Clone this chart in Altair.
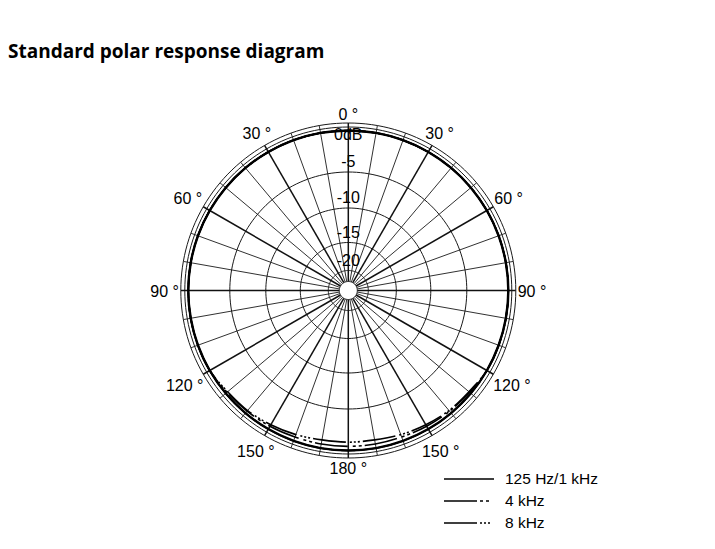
import altair as alt
import pandas as pd

TITLE = "Standard polar response diagram"
SERIES = ["125 Hz/1 kHz", "4 kHz", "8 kHz"]
ANGLES = [0, 10, 20, 30, 40, 50, 60, 70, 80, 90, 100, 110, 120, 130, 140, 150, 160, 170, 180,
          190, 200, 210, 220, 230, 240, 250, 260, 270, 280, 290, 300, 310, 320, 330, 340, 350, 360]
RESP_125_1K = [0, 0, 0, 0, 0, 0, 0, 0, 0, 0, 0, 0, 0, 0, 0, 0, 0, 0, 0,
               0, 0, 0, 0, 0, 0, 0, 0, 0, 0, 0, 0, 0, 0, 0, 0, 0, 0]
RESP_4K = [0, 0, 0, 0, 0, 0, 0, 0, 0, 0, 0, 0, 0, -0.2, -0.3, -0.4, -0.5, -0.5, -0.5,
           -0.5, -0.5, -0.4, -0.3, -0.2, 0, 0, 0, 0, 0, 0, 0, 0, 0, 0, 0, 0, 0]
RESP_8K = [0, 0, 0, 0, 0, 0, 0, 0, 0, 0, 0, 0, 0, -0.3, -0.4, -0.6, -0.8, -1.0, -1.0,
           -1.0, -0.8, -0.6, -0.4, -0.3, 0, 0, 0, 0, 0, 0, 0, 0, 0, 0, 0, 0, 0]
RING_DB = [0, -5, -10, -15, -20]
RING_LABELS = ["0dB", "-5", "-10", "-15", "-20"]
SPOKE_ANGLES = list(range(0, 360, 10))
ANGLE_LABEL_POS = [0, 30, 60, 90, 120, 150, 180, 210, 240, 270, 300, 330]
ANGLE_LABEL_TEXT = ["0 °", "30 °", "60 °", "90 °", "120 °", "150 °", "180 °",
                    "150 °", "120 °", "90 °", "60 °", "30 °"]

# radial scale of the diagram (dB -> pixels from centre)
R_DB = [-25, -20, -15, -10, -5, 0]
R_PX = [9, 20, 48, 82.5, 118.5, 160]
R_BAND = 163.5
R_OUTER = 167.5

W, H = 699, 463
CX, CY = 340.3, 212.5
XDOM = [-CX, W - CX]
YDOM = [-(H - CY), CY]

FONT = "Liberation Sans"


def rad_expr(f):
    def seg(i):
        s = (R_PX[i + 1] - R_PX[i]) / (R_DB[i + 1] - R_DB[i])
        return f"({R_PX[i]} + (({f}) - ({R_DB[i]})) * {s})"
    expr = seg(0)
    for i in range(1, len(R_DB) - 1):
        expr = f"(({f}) >= {R_DB[i]} ? {seg(i)} : {expr})"
    return expr


def polar(ch, r="r", a="angle", xn="px", yn="py"):
    return ch.transform_calculate(**{
        xn: f"datum.{r}*sin(datum.{a}*PI/180)",
        yn: f"datum.{r}*cos(datum.{a}*PI/180)",
    })


X = alt.X("px:Q", scale=alt.Scale(domain=XDOM, nice=False, zero=False), axis=None)
Y = alt.Y("py:Q", scale=alt.Scale(domain=YDOM, nice=False, zero=False), axis=None)

STEP = list(range(0, 361, 2))

# dB rings + hub
ring_df = pd.DataFrame([{"ring": str(d), "db": d, "angle": a}
                        for d in RING_DB + [R_DB[0]] for a in STEP])
rings = polar(alt.Chart(ring_df).transform_calculate(r=rad_expr("datum.db"))).mark_line(
    color="#1a1a1a", strokeWidth=1).encode(x=X, y=Y, detail="ring:N", order="angle:Q")

frame_df = pd.DataFrame([{"ring": str(r), "r": r, "angle": a}
                         for r in [R_BAND, R_OUTER] for a in STEP])
frame = polar(alt.Chart(frame_df)).mark_line(color="#1a1a1a", strokeWidth=1).encode(
    x=X, y=Y, detail="ring:N", order="angle:Q")

# spokes
spoke_df = pd.DataFrame({"angle": SPOKE_ANGLES})
spoke_base = alt.Chart(spoke_df).transform_calculate(
    r0=str(R_PX[0]), r1=str(R_OUTER))
spoke_base = polar(polar(spoke_base, r="r0"), r="r1", xn="px2", yn="py2")
spokes_minor = spoke_base.transform_filter("datum.angle % 30 != 0").mark_rule(
    color="#1a1a1a", strokeWidth=0.9).encode(x=X, y=Y, x2="px2:Q", y2="py2:Q")
spokes_major = spoke_base.transform_filter("datum.angle % 30 == 0").mark_rule(
    color="#111", strokeWidth=1.5).encode(x=X, y=Y, x2="px2:Q", y2="py2:Q")

# response curves
rows = []
for s, vals in zip(SERIES, [RESP_125_1K, RESP_4K, RESP_8K]):
    for a, v in zip(ANGLES, vals):
        rows.append({"series": s, "angle": a, "db": v})
curve_df = pd.DataFrame(rows)
curve_base = polar(alt.Chart(curve_df).transform_calculate(r=rad_expr("datum.db")))

curve_thick = curve_base.transform_filter(f"datum.series == '{SERIES[0]}'").mark_line(
    color="black", interpolate="cardinal", strokeWidth=2.4).encode(
    x=X, y=Y, order="angle:Q")

curves = curve_base.mark_line(
    color="black", interpolate="cardinal", strokeWidth=1.6).encode(
    x=X, y=Y, order="angle:Q",
    strokeDash=alt.StrokeDash(
        "series:N",
        scale=alt.Scale(domain=SERIES,
                        range=[[1, 0], [33, 3, 3, 3, 3, 5], [33, 3, 2, 2, 2, 2, 2, 4]]),
        legend=alt.Legend(title=None, orient="none", legendX=435, legendY=390,
                          symbolType="stroke", symbolSize=2500, symbolStrokeWidth=1.6,
                          symbolStrokeColor="black", clipHeight=22, rowPadding=0,
                          padding=0, labelFont=FONT, labelFontSize=15.5,
                          labelColor="black", labelOffset=10)),
)

# dB labels
db_df = pd.DataFrame({"db": RING_DB, "label": RING_LABELS, "angle": [0] * len(RING_DB)})
db_labels = polar(alt.Chart(db_df).transform_calculate(
    r=f"{rad_expr('datum.db')} + (datum.db < 0 ? 10 : -4.5)")).mark_text(
    font=FONT, fontSize=16, color="black", align="center", baseline="middle").encode(
    x=X, y=Y, text="label:N")

# angle labels
ang_df = pd.DataFrame({"angle": ANGLE_LABEL_POS, "label": ANGLE_LABEL_TEXT})
ang_labels = polar(alt.Chart(ang_df).transform_calculate(
    r=f"{R_OUTER + 3} + abs(sin(datum.angle*PI/180))*(4.3*length(datum.label)-4)"
      f" + abs(cos(datum.angle*PI/180))*6.5")).mark_text(
    font=FONT, fontSize=16, color="black", align="center", baseline="middle", dy=1.5).encode(
    x=X, y=Y, text="label:N")

chart = alt.layer(
    rings, frame, spokes_minor, spokes_major, curve_thick, curves, db_labels, ang_labels
).properties(
    width=W, height=H,
    padding={"left": 0, "top": 70, "right": 0, "bottom": 0},
    autosize=alt.AutoSizeParams(type="none"),
    title=alt.TitleParams(TITLE, anchor="start", font="Open Sans", fontSize=19,
                          fontWeight="bold", color="black", offset=1,
                          baseline="alphabetic"),
).configure_view(strokeWidth=0)

chart.save("out.html", embed_options={"renderer": "svg", "actions": False})
